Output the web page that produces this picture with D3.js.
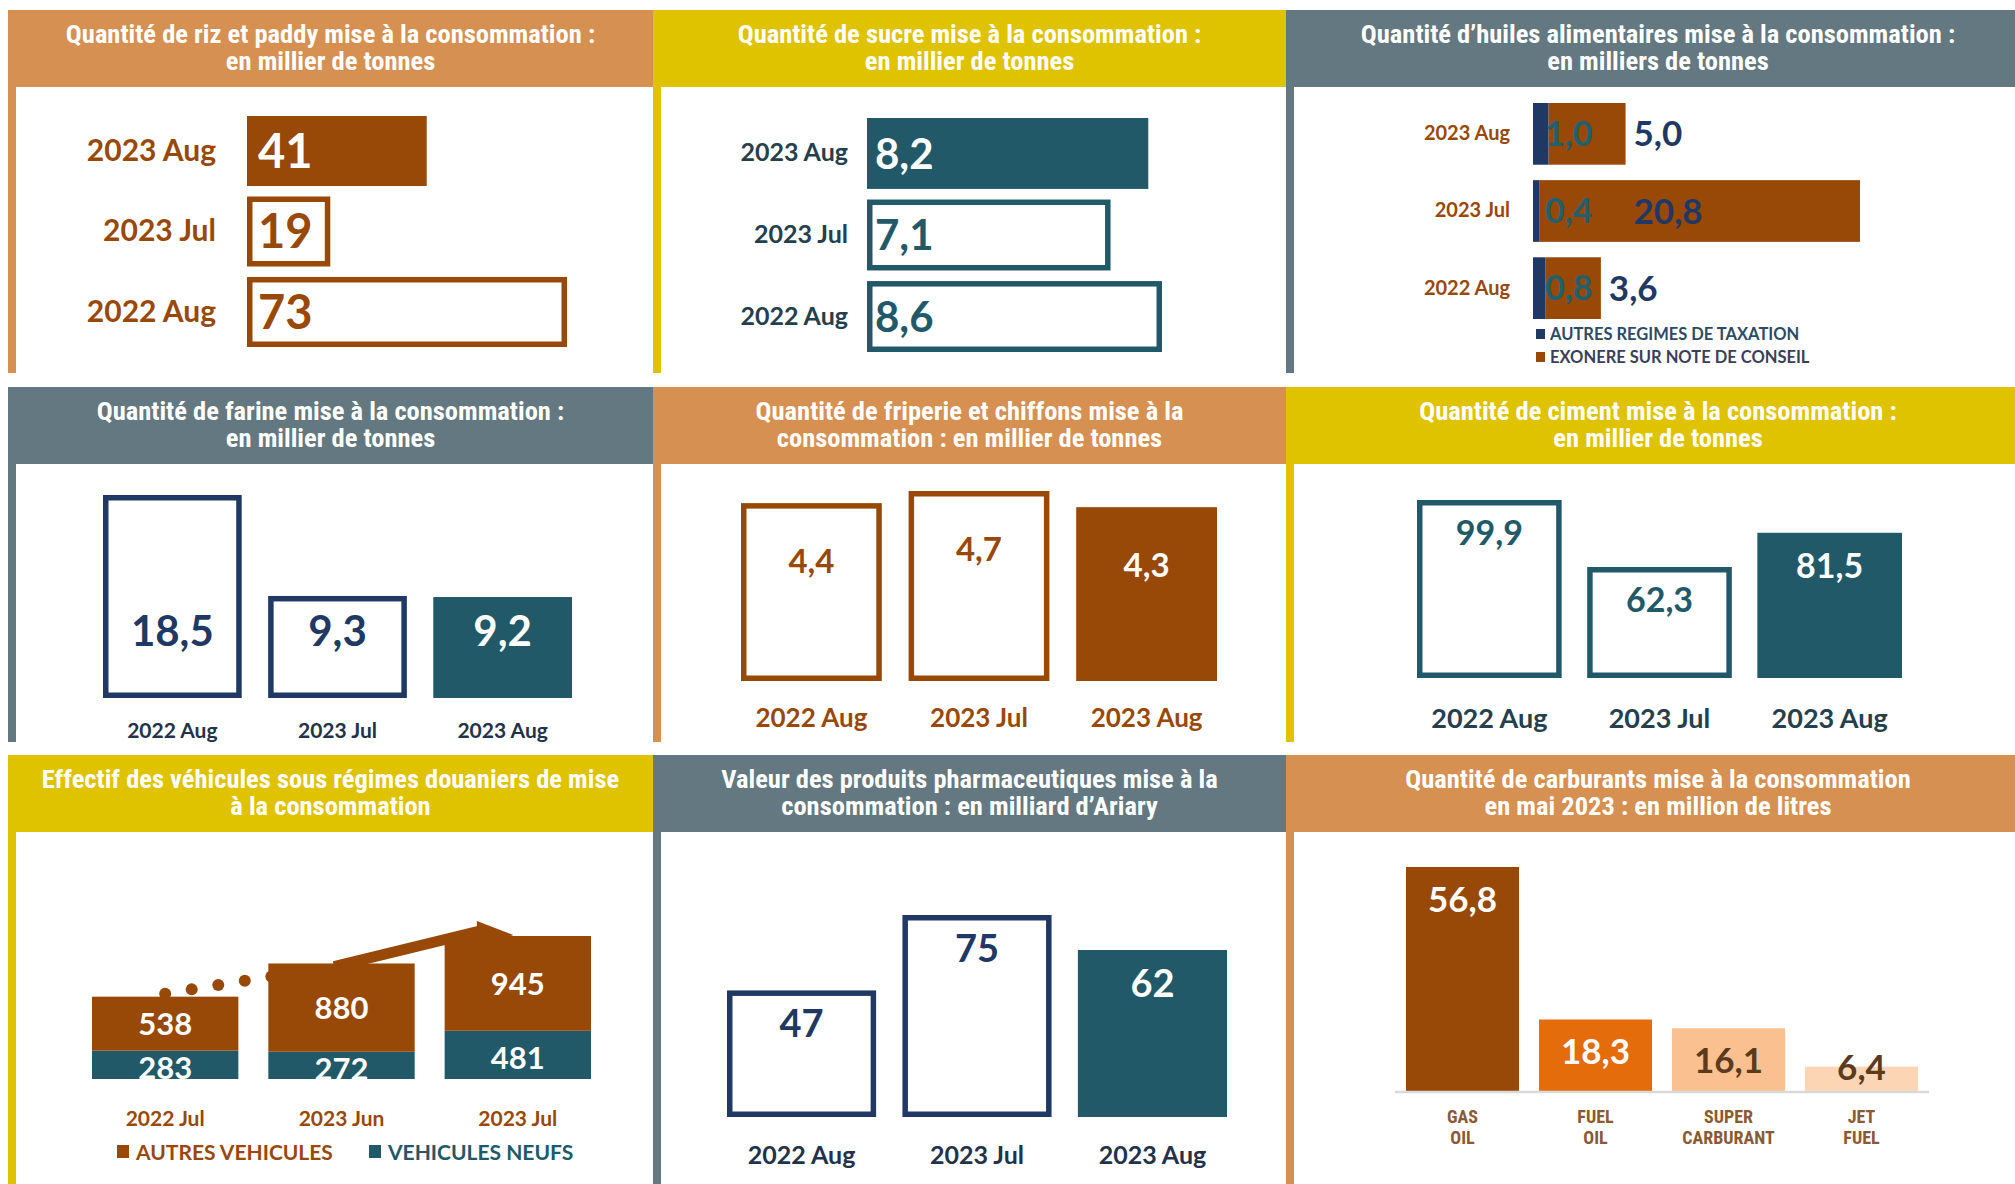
<!DOCTYPE html>
<html>
<head>
<meta charset="utf-8">
<script src="https://cdn.jsdelivr.net/npm/d3@7"></script>
<style>
  body { margin: 0; background: #fff; }
  svg { display: block; }
</style>
</head>
<body>
<div id="chart"></div>
<script>
// ---- data ----
const titles = [
    ["Quantité de riz et paddy mise à la consommation :", "en millier de tonnes"],
    ["Quantité de sucre mise à la consommation :", "en millier de tonnes"],
    ["Quantité d’huiles alimentaires mise à la consommation :", "en milliers de tonnes"],
    ["Quantité de farine mise à la consommation :", "en millier de tonnes"],
    ["Quantité de friperie et chiffons mise à la", "consommation : en millier de tonnes"],
    ["Quantité de ciment mise à la consommation :", "en millier de tonnes"],
    ["Effectif des véhicules sous régimes douaniers de mise", "à la consommation"],
    ["Valeur des produits pharmaceutiques mise à la", "consommation : en milliard d’Ariary"],
    ["Quantité de carburants mise à la consommation", "en mai 2023 : en million de litres"]
];

const hPeriods = ["2023 Aug", "2023 Jul", "2022 Aug"];
const rizValues = [41, 19, 73];
const sucreValues = [8.2, 7.1, 8.6];
const huileAutres = [1.0, 0.4, 0.8];
const huileExonere = [5.0, 20.8, 3.6];
const huileLegend = ["AUTRES REGIMES DE TAXATION", "EXONERE SUR NOTE DE CONSEIL"];

const vPeriods = ["2022 Aug", "2023 Jul", "2023 Aug"];
const farineValues = [18.5, 9.3, 9.2];
const friperieValues = [4.4, 4.7, 4.3];
const cimentValues = [99.9, 62.3, 81.5];
const pharmaValues = [47, 75, 62];

const vehiculePeriods = ["2022 Jul", "2023 Jun", "2023 Jul"];
const vehiculeNeufs = [283, 272, 481];
const vehiculeAutres = [538, 880, 945];
const vehiculeLegend = ["AUTRES VEHICULES", "VEHICULES NEUFS"];

const carburantTypes = ["GAS OIL", "FUEL OIL", "SUPER CARBURANT", "JET FUEL"];
const carburantValues = [56.8, 18.3, 16.1, 6.4];

// ---- styles ----
const ORANGE = "#D69052", YELLOW = "#DFC200", SLATE = "#637880";
const BROWN = "#984807", TEAL = "#215968", NAVY = "#1F3864";
const TEAL_TXT = "#24404E", HUILE_TEAL = "#21606F";
const FUEL_COLORS = ["#984807", "#E46C0A", "#FAC090", "#FCD5B5"];
const TITLE_FONT = "'Liberation Sans Narrow', 'Roboto Condensed', 'DejaVu Sans Condensed', sans-serif";
const BODY_FONT = "Lato, 'Open Sans', sans-serif";
const SW = 5.5;

const fr = d3.formatLocale({ decimal: ",", thousands: "\u00a0", grouping: [3], currency: ["", ""] });
const f1 = fr.format(".1f");
const f0 = fr.format("d");

const svg = d3.select("#chart").append("svg")
    .attr("width", 2015)
    .attr("height", 1184)
    .attr("viewBox", "0 0 2015 1184");

// ---- panel frames ----
const colX = [8, 653, 1286, 2015];
const rowY = [10, 387, 755];
const rowEnd = [373, 742, 1184];
const headH = 77;
const panelColors = [[ORANGE, YELLOW, SLATE], [SLATE, ORANGE, YELLOW], [YELLOW, SLATE, ORANGE]];

titles.forEach((t, i) => {
    const r = Math.floor(i / 3), c = i % 3;
    const x0 = colX[c], x1 = colX[c + 1], y0 = rowY[r];
    const color = panelColors[r][c];
    const g = svg.append("g");
    g.append("rect")
        .attr("x", x0).attr("y", y0)
        .attr("width", x1 - x0).attr("height", headH)
        .attr("fill", color);
    g.append("rect")
        .attr("x", x0).attr("y", y0)
        .attr("width", 8).attr("height", rowEnd[r] - y0)
        .attr("fill", color);
    const cx = c === 2 ? 1658 : (x0 + x1) / 2;
    const title = g.append("text")
        .attr("text-anchor", "middle")
        .attr("fill", "#fff")
        .style("font-family", TITLE_FONT)
        .style("font-weight", "bold")
        .style("font-size", "26.5px");
    title.selectAll("tspan")
        .data(t)
        .join("tspan")
        .attr("x", cx)
        .attr("y", (d, k) => y0 + 24 + k * 27)
        .attr("dy", "0.35em")
        .text(d => d);
});

// ---- horizontal bars (riz, sucre) ----
function drawHBars(cfg) {
    const g = svg.append("g");
    const data = hPeriods.map((p, i) => ({ cat: p, value: cfg.values[i], filled: p === "2023 Aug" }));
    const x = d3.scaleLinear().domain([0, d3.max(cfg.values)]).range(cfg.xRange);
    const y = d3.scaleBand().domain(hPeriods).range(cfg.yRange).paddingInner(cfg.pad);

    g.selectAll("rect")
        .data(data)
        .join("rect")
        .attr("x", d => d.filled ? x(0) : x(0) + SW / 2)
        .attr("y", d => d.filled ? y(d.cat) : y(d.cat) + SW / 2)
        .attr("width", d => d.filled ? x(d.value) - x(0) : x(d.value) - x(0) - SW)
        .attr("height", d => d.filled ? y.bandwidth() : y.bandwidth() - SW)
        .attr("fill", d => d.filled ? cfg.color : "#fff")
        .attr("stroke", d => d.filled ? "none" : cfg.color)
        .attr("stroke-width", SW);

    const axis = g.append("g")
        .attr("transform", `translate(${x(0)},0)`)
        .call(d3.axisLeft(y).tickSize(0).tickPadding(cfg.catPad));
    axis.select(".domain").remove();
    axis.selectAll("text")
        .attr("fill", cfg.catColor)
        .style("font-family", BODY_FONT)
        .style("font-weight", "bold")
        .style("font-size", cfg.catSize + "px");

    g.selectAll("text.val")
        .data(data)
        .join("text")
        .attr("class", "val")
        .attr("x", x(0) + cfg.valPad)
        .attr("y", d => y(d.cat) + y.bandwidth() / 2)
        .attr("dy", "0.36em")
        .attr("fill", d => d.filled ? "#fff" : cfg.color)
        .style("font-family", BODY_FONT)
        .style("font-weight", "bold")
        .style("font-size", cfg.valSize + "px")
        .text(d => cfg.fmt(d.value));
}

drawHBars({ values: rizValues, xRange: [247, 567], yRange: [116, 347], pad: 0.13,
    color: BROWN, catColor: BROWN, catPad: 31, catSize: 30, valPad: 11, valSize: 47, fmt: f0 });
drawHBars({ values: sucreValues, xRange: [867, 1162], yRange: [118, 352], pad: 0.13,
    color: TEAL, catColor: TEAL_TXT, catPad: 19, catSize: 25, valPad: 8, valSize: 42, fmt: f1 });

// ---- huiles: stacked horizontal ----
(function () {
    const g = svg.append("g");
    const data = hPeriods.map((p, i) => ({ cat: p, autres: huileAutres[i], exonere: huileExonere[i] }));
    const x = d3.scaleLinear()
        .domain([0, d3.max(data, d => d.autres + d.exonere)])
        .range([1533, 1860]);
    const y = d3.scaleBand().domain(hPeriods).range([103, 319]).paddingInner(0.2);

    g.selectAll("rect.exo")
        .data(data)
        .join("rect")
        .attr("class", "exo")
        .attr("x", d => x(d.autres))
        .attr("y", d => y(d.cat))
        .attr("width", d => x(d.autres + d.exonere) - x(d.autres))
        .attr("height", y.bandwidth())
        .attr("fill", BROWN);

    g.selectAll("rect.aut")
        .data(data)
        .join("rect")
        .attr("class", "aut")
        .attr("x", x(0))
        .attr("y", d => y(d.cat))
        .attr("width", d => x(d.autres) - x(0))
        .attr("height", y.bandwidth())
        .attr("fill", NAVY);

    const axis = g.append("g")
        .attr("transform", `translate(${x(0)},0)`)
        .call(d3.axisLeft(y).tickSize(0).tickPadding(23));
    axis.select(".domain").remove();
    axis.selectAll("text")
        .attr("fill", BROWN)
        .style("font-family", BODY_FONT)
        .style("font-weight", "bold")
        .style("font-size", "20px");

    g.selectAll("text.va")
        .data(data)
        .join("text")
        .attr("class", "va")
        .attr("x", x(0) + 12)
        .attr("y", d => y(d.cat) + y.bandwidth() / 2)
        .attr("dy", "0.36em")
        .attr("fill", HUILE_TEAL)
        .style("font-family", BODY_FONT)
        .style("font-weight", "bold")
        .style("font-size", "34px")
        .text(d => f1(d.autres));

    g.selectAll("text.ve")
        .data(data)
        .join("text")
        .attr("class", "ve")
        .attr("x", d => x(Math.min(d.autres + d.exonere, 6)) + 8)
        .attr("y", d => y(d.cat) + y.bandwidth() / 2)
        .attr("dy", "0.36em")
        .attr("fill", NAVY)
        .style("font-family", BODY_FONT)
        .style("font-weight", "bold")
        .style("font-size", "35px")
        .text(d => f1(d.exonere));

    const legend = g.selectAll("g.leg")
        .data(huileLegend)
        .join("g")
        .attr("class", "leg")
        .attr("transform", (d, i) => `translate(1536,${334 + i * 23})`);
    legend.append("rect")
        .attr("x", 0).attr("y", -5)
        .attr("width", 9).attr("height", 10)
        .attr("fill", (d, i) => i === 0 ? NAVY : BROWN);
    legend.append("text")
        .attr("x", 14)
        .attr("dy", "0.36em")
        .attr("fill", (d, i) => i === 0 ? "#2E4A66" : "#3A3F5A")
        .style("font-family", BODY_FONT)
        .style("font-weight", "bold")
        .style("font-size", "16.5px")
        .text(d => d);
})();

// ---- vertical bars ----
function drawVBars(cfg) {
    const g = svg.append("g");
    const data = cfg.cats.map((c, i) => ({ cat: c, value: cfg.values[i], filled: c === "2023 Aug" }));
    const x = d3.scaleBand().domain(cfg.cats).range(cfg.xRange).paddingInner(cfg.pad);
    const y = d3.scaleLinear().domain([0, d3.max(cfg.values)]).range(cfg.yRange);

    g.selectAll("rect")
        .data(data)
        .join("rect")
        .attr("x", d => d.filled ? x(d.cat) : x(d.cat) + SW / 2)
        .attr("y", d => d.filled ? y(d.value) : y(d.value) + SW / 2)
        .attr("width", d => d.filled ? x.bandwidth() : x.bandwidth() - SW)
        .attr("height", d => d.filled ? y(0) - y(d.value) : y(0) - y(d.value) - SW)
        .attr("fill", d => d.filled ? cfg.fill : "#fff")
        .attr("stroke", d => d.filled ? "none" : cfg.color)
        .attr("stroke-width", SW);

    const axis = g.append("g")
        .attr("transform", `translate(0,${y(0)})`)
        .call(d3.axisBottom(x).tickSize(0));
    axis.select(".domain").remove();
    axis.selectAll("text")
        .attr("y", cfg.catY - y(0))
        .attr("dy", "0.36em")
        .attr("fill", cfg.catColor)
        .style("font-family", BODY_FONT)
        .style("font-weight", "bold")
        .style("font-size", cfg.catSize + "px");

    g.selectAll("text.val")
        .data(data)
        .join("text")
        .attr("class", "val")
        .attr("x", d => x(d.cat) + x.bandwidth() / 2)
        .attr("y", d => cfg.valY(y, d.value))
        .attr("dy", "0.36em")
        .attr("text-anchor", "middle")
        .attr("fill", d => d.filled ? "#fff" : cfg.color)
        .style("font-family", BODY_FONT)
        .style("font-weight", "bold")
        .style("font-size", cfg.valSize + "px")
        .text(d => cfg.fmt(d.value));
}

drawVBars({ cats: vPeriods, values: farineValues, xRange: [103, 572], pad: 0.16, yRange: [698, 495],
    color: NAVY, fill: TEAL, catColor: "#22324A", catY: 730, catSize: 21, valSize: 42, fmt: f1,
    valY: (y, v) => y(0) - 67 });
drawVBars({ cats: vPeriods, values: friperieValues, xRange: [741, 1217], pad: 0.16, yRange: [681, 491],
    color: BROWN, fill: BROWN, catColor: BROWN, catY: 718, catSize: 26, valSize: 33, fmt: f1,
    valY: (y, v) => y(v) + 58 });
drawVBars({ cats: vPeriods, values: cimentValues, xRange: [1417, 1902], pad: 0.15, yRange: [678, 500],
    color: TEAL, fill: TEAL, catColor: TEAL_TXT, catY: 718, catSize: 27, valSize: 34, fmt: f1,
    valY: (y, v) => y(v) + 33 });
drawVBars({ cats: vPeriods, values: pharmaValues, xRange: [727, 1227], pad: 0.15, yRange: [1117, 915],
    color: NAVY, fill: TEAL, catColor: "#22324A", catY: 1155, catSize: 25, valSize: 38, fmt: f0,
    valY: (y, v) => y(v) + 33 });

// ---- vehicules: stacked vertical ----
(function () {
    const g = svg.append("g");
    const rows = vehiculePeriods.map((p, i) => ({ period: p, neufs: vehiculeNeufs[i], autres: vehiculeAutres[i] }));
    const series = d3.stack().keys(["neufs", "autres"])(rows);
    const x = d3.scaleBand().domain(vehiculePeriods).range([92, 591]).paddingInner(0.17);
    const y = d3.scaleLinear()
        .domain([0, d3.max(series[1], d => d[1])])
        .range([1079, 936]);
    const bw = x.bandwidth();
    const tops = series[1].map(d => y(d[1]));
    const colors = { neufs: TEAL, autres: BROWN };

    // trend arrow behind the bars
    const a = [x(vehiculePeriods[0]) + bw / 2, tops[0] - 3];
    const c = [x(vehiculePeriods[1]) + 3, tops[1] + 13];
    const dot = d3.interpolate(a, c);
    g.selectAll("circle")
        .data(d3.range(5))
        .join("circle")
        .attr("cx", k => dot(k / 4)[0])
        .attr("cy", k => dot(k / 4)[1])
        .attr("r", 6)
        .attr("fill", BROWN);
    const x1 = x(vehiculePeriods[1]), x2 = x(vehiculePeriods[2]);
    g.append("line")
        .attr("x1", x1 + bw * 0.45).attr("y1", tops[1] + 3)
        .attr("x2", x2 + bw * 0.24).attr("y2", tops[2] - 5)
        .attr("stroke", BROWN)
        .attr("stroke-width", 11);
    g.append("path")
        .attr("d", d3.line()([
            [x2 + bw * 0.47, tops[2] - 1],
            [x2 + bw * 0.22, tops[2] - 15],
            [x2 + bw * 0.22, tops[2] + 12]
        ]) + "Z")
        .attr("fill", BROWN);

    g.selectAll("g.layer")
        .data(series)
        .join("g")
        .attr("class", "layer")
        .attr("fill", s => colors[s.key])
        .selectAll("rect")
        .data(s => s)
        .join("rect")
        .attr("x", d => x(d.data.period))
        .attr("y", d => y(d[1]))
        .attr("width", bw)
        .attr("height", d => y(d[0]) - y(d[1]));

    g.selectAll("g.lab")
        .data(series)
        .join("g")
        .attr("class", "lab")
        .selectAll("text")
        .data(s => s.map(d => ({ d, key: s.key })))
        .join("text")
        .attr("x", o => x(o.d.data.period) + bw / 2)
        .attr("y", o => (y(o.d[0]) + y(o.d[1])) / 2 + (o.key === "neufs" ? 3 : 0))
        .attr("dy", "0.36em")
        .attr("text-anchor", "middle")
        .attr("fill", "#fff")
        .style("font-family", BODY_FONT)
        .style("font-weight", "bold")
        .style("font-size", "31px")
        .text(o => f0(o.d.data[o.key]));

    const axis = g.append("g")
        .attr("transform", `translate(0,${y(0)})`)
        .call(d3.axisBottom(x).tickSize(0));
    axis.select(".domain").remove();
    axis.selectAll("text")
        .attr("y", 1118 - y(0))
        .attr("dy", "0.36em")
        .attr("fill", BROWN)
        .style("font-family", BODY_FONT)
        .style("font-weight", "bold")
        .style("font-size", "21px");

    const legend = g.selectAll("g.leg")
        .data(vehiculeLegend)
        .join("g")
        .attr("class", "leg")
        .attr("transform", (d, i) => `translate(${i === 0 ? 117 : 369},1152)`);
    legend.append("rect")
        .attr("x", 0).attr("y", -7)
        .attr("width", 12).attr("height", 13)
        .attr("fill", (d, i) => i === 0 ? BROWN : TEAL);
    legend.append("text")
        .attr("x", 19)
        .attr("dy", "0.36em")
        .attr("fill", (d, i) => i === 0 ? BROWN : TEAL)
        .style("font-family", BODY_FONT)
        .style("font-weight", "bold")
        .style("font-size", "21px")
        .text(d => d);
})();

// ---- carburants ----
(function () {
    const g = svg.append("g");
    const data = carburantTypes.map((t, i) => ({ type: t, value: carburantValues[i], color: FUEL_COLORS[i] }));
    const x = d3.scaleBand().domain(carburantTypes).range([1406, 1918]).paddingInner(0.15);
    const y = d3.scaleLinear().domain([0, d3.max(carburantValues)]).range([1092, 867]);

    g.selectAll("rect")
        .data(data)
        .join("rect")
        .attr("x", d => x(d.type))
        .attr("y", d => y(d.value))
        .attr("width", x.bandwidth())
        .attr("height", d => y(0) - y(d.value))
        .attr("fill", d => d.color);

    const axis = g.append("g")
        .attr("transform", `translate(0,${y(0)})`)
        .call(d3.axisBottom(x).tickSize(0).tickSizeOuter(0));
    axis.select(".domain")
        .attr("stroke", "#D9D9D9")
        .attr("stroke-width", 2.5)
        .attr("d", `M${x.range()[0] - 11},0H${x.range()[1] + 11}`);
    axis.selectAll(".tick text").each(function (d) {
        const t = d3.select(this).text(null)
            .attr("y", 0)
            .attr("dy", null)
            .attr("fill", "#8A5A34")
            .style("font-family", TITLE_FONT)
            .style("font-weight", "bold")
            .style("font-size", "18px");
        d.split(" ").forEach((w, k) => {
            t.append("tspan").attr("x", 0).attr("y", 1117 - y(0) + k * 21).attr("dy", "0.36em").text(w);
        });
    });

    g.selectAll("text.val")
        .data(data)
        .join("text")
        .attr("class", "val")
        .attr("x", d => x(d.type) + x.bandwidth() / 2)
        .attr("y", d => Math.min(y(d.value) + 32, y(0) - 25))
        .attr("dy", "0.36em")
        .attr("text-anchor", "middle")
        .attr("fill", (d, i) => i < 2 ? "#fff" : "#5B3A1E")
        .style("font-family", BODY_FONT)
        .style("font-weight", "bold")
        .style("font-size", "35px")
        .text(d => f1(d.value));
})();
</script>
</body>
</html>
